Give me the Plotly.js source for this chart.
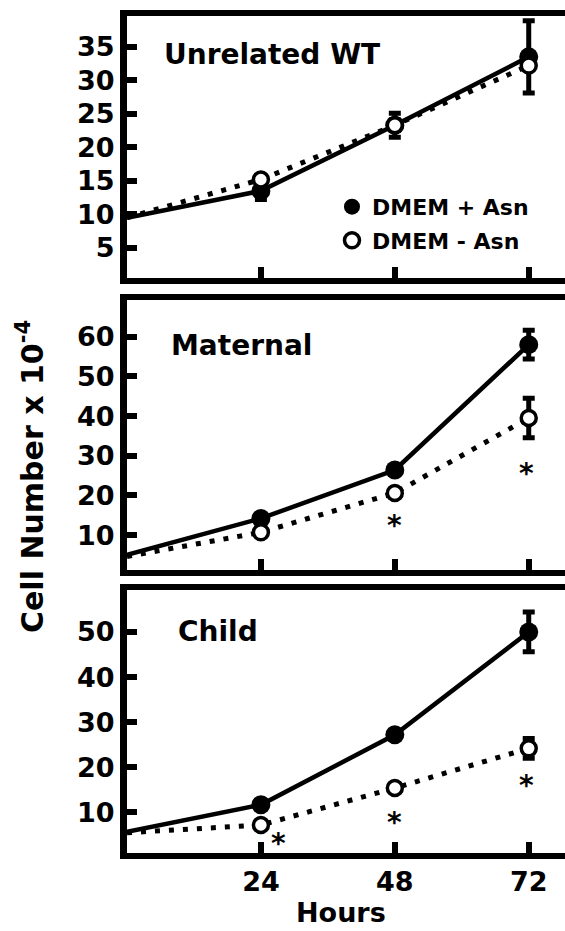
<!DOCTYPE html>
<html>
<head>
<meta charset="utf-8">
<script src="https://cdn.plot.ly/plotly-3.0.1.min.js"></script>
<style>html,body{margin:0;padding:0;background:#fff;}#chart{width:565px;height:931px;}</style>
</head>
<body>
<div id="chart"></div>
<script>
// ---- data ----
const hours = [0, 24, 48, 72];
const tickHours = [24, 48, 72];
const seriesNames = ['DMEM + Asn', 'DMEM - Asn'];
const panelNames = ['Unrelated WT', 'Maternal', 'Child'];

const wtPlus = [9.5, 13.5, 23.3, 33.5];
const wtPlusErr = [1.3, 1.8, 5.4];
const wtMinus = [9.5, 15.2, 23.3, 32.2];
const wtMinusErr = [0.5, 0.8, 0];

const matPlus = [5.0, 14.2, 26.4, 58.0];
const matPlusErr = [1.0, 1.0, 3.6];
const matMinus = [4.6, 10.7, 20.6, 39.5];
const matMinusErr = [0.8, 0.8, 5.0];

const chPlus = [5.7, 11.7, 27.2, 50.0];
const chPlusErr = [1.0, 1.0, 4.4];
const chMinus = [5.5, 7.2, 15.4, 24.2];
const chMinusErr = [0.5, 0.5, 2.2];

const matSigX = [48, 71.6];
const matSigY = [13.0, 26.1];
const chSigX = [27.2, 48, 71.6];
const chSigY = [3.5, 8.3, 16.4];

const wtTicks = [5, 10, 15, 20, 25, 30, 35];
const matTicks = [10, 20, 30, 40, 50, 60];
const chTicks = [10, 20, 30, 40, 50];

// ---- build ----
const FONT = 'DejaVu Sans';
const panels = [
  {plus: wtPlus, plusErr: wtPlusErr, minus: wtMinus, minusErr: wtMinusErr, xa: 'x', ya: 'y', legend: true},
  {plus: matPlus, plusErr: matPlusErr, minus: matMinus, minusErr: matMinusErr, xa: 'x2', ya: 'y2', legend: false},
  {plus: chPlus, plusErr: chPlusErr, minus: chMinus, minusErr: chMinusErr, xa: 'x3', ya: 'y3', legend: false}
];

const traces = [];
panels.forEach(function (p) {
  traces.push({x: hours, y: p.plus, xaxis: p.xa, yaxis: p.ya, mode: 'lines',
    line: {color: '#000', width: 4.5}, showlegend: false, hoverinfo: 'skip'});
  traces.push({x: hours, y: p.minus, xaxis: p.xa, yaxis: p.ya, mode: 'lines',
    line: {color: '#000', width: 5, dash: '5px,9px'}, showlegend: false, hoverinfo: 'skip'});
});
panels.forEach(function (p) {
  traces.push({x: hours.slice(1), y: p.plus.slice(1), xaxis: p.xa, yaxis: p.ya, mode: 'markers',
    name: seriesNames[0], legendgroup: 'a', showlegend: p.legend,
    marker: {size: 19, color: '#000', line: {width: 0}},
    error_y: {type: 'data', array: p.plusErr, visible: true, color: '#000', thickness: 5, width: 6}});
});
panels.forEach(function (p) {
  traces.push({x: hours.slice(1), y: p.minus.slice(1), xaxis: p.xa, yaxis: p.ya, mode: 'markers',
    name: seriesNames[1], legendgroup: 'b', showlegend: p.legend,
    marker: {size: 15, color: '#fff', line: {color: '#000', width: 3.5}},
    error_y: {type: 'data', array: p.minusErr, visible: true, color: '#000', thickness: 5, width: 6}});
});

function xAxis(anchor, labels) {
  return {anchor: anchor, domain: [0, 1], range: [0, 78.5], tickmode: 'array', tickvals: tickHours,
    ticktext: tickHours.map(String), ticks: 'inside', ticklen: 11, tickwidth: 6, tickcolor: '#000',
    showline: true, linewidth: 6, linecolor: '#000', mirror: true, showgrid: false, zeroline: false,
    showticklabels: labels, tickfont: {family: FONT, weight: 'bold', size: 27, color: '#000'}};
}
function yAxis(anchor, domain, range, ticks) {
  return {anchor: anchor, domain: domain, range: range, tickmode: 'array', tickvals: ticks,
    ticktext: ticks.map(String), ticks: 'inside', ticklen: 10, tickwidth: 6, tickcolor: '#000',
    showline: true, linewidth: 7, linecolor: '#000', mirror: false, showgrid: false, zeroline: false,
    tickfont: {family: FONT, weight: 'bold', size: 27, color: '#000'}};
}

const annotations = [];
const labelPos = [[6.3, 33.9, 'x', 'y'], [7.5, 57.9, 'x2', 'y2'], [8.8, 50.05, 'x3', 'y3']];
panelNames.forEach(function (n, i) {
  annotations.push({text: n, x: labelPos[i][0], y: labelPos[i][1], xref: labelPos[i][2], yref: labelPos[i][3],
    xanchor: 'left', yanchor: 'middle', showarrow: false,
    font: {family: FONT, weight: 'bold', size: 28, color: '#000'}});
});
function addStars(xs, ys, xr, yr) {
  xs.forEach(function (xv, i) {
    annotations.push({text: '*', x: xv, y: ys[i], xref: xr, yref: yr, showarrow: false,
      xanchor: 'center', yanchor: 'middle', yshift: -2,
      font: {family: FONT, weight: 'bold', size: 28, color: '#000'}});
  });
}
addStars(matSigX, matSigY, 'x2', 'y2');
addStars(chSigX, chSigY, 'x3', 'y3');
annotations.push({text: 'Cell Number x 10<sup>-4</sup>', textangle: -90, x: -0.2215, y: 0.4504,
  xref: 'paper', yref: 'paper', xanchor: 'center', yanchor: 'middle', showarrow: false,
  font: {family: FONT, weight: 'bold', size: 30, color: '#000'}});
annotations.push({text: 'Hours', x: 0.4886, y: -0.0705, xref: 'paper', yref: 'paper',
  xanchor: 'center', yanchor: 'middle', showarrow: false, borderpad: 0, borderwidth: 0,
  font: {family: FONT, weight: 'bold', size: 27, color: '#000'}});

const layout = {
  width: 565, height: 931,
  margin: {l: 127, r: 0, t: 16, b: 78, pad: 0},
  paper_bgcolor: '#fff', plot_bgcolor: '#fff',
  font: {family: FONT, weight: 'bold', color: '#000'},
  showlegend: true,
  legend: {x: 0.468, y: 0.797, xanchor: 'left', yanchor: 'top', xref: 'paper', yref: 'paper',
    bgcolor: 'rgba(0,0,0,0)', borderwidth: 0, tracegroupgap: 2,
    font: {family: FONT, weight: 'bold', size: 22, color: '#000'}},
  xaxis: xAxis('y', false),
  xaxis2: xAxis('y2', false),
  xaxis3: xAxis('y3', true),
  yaxis: yAxis('x', [0.687, 1], [0.5, 39.6], wtTicks),
  yaxis2: yAxis('x2', [0.3381, 0.6607], [1.2, 69.25], matTicks),
  yaxis3: yAxis('x3', [0, 0.3142], [1.0, 59.3], chTicks),
  annotations: annotations
};

Plotly.newPlot('chart', traces, layout, {displayModeBar: false, staticPlot: true});
</script>
</body>
</html>
